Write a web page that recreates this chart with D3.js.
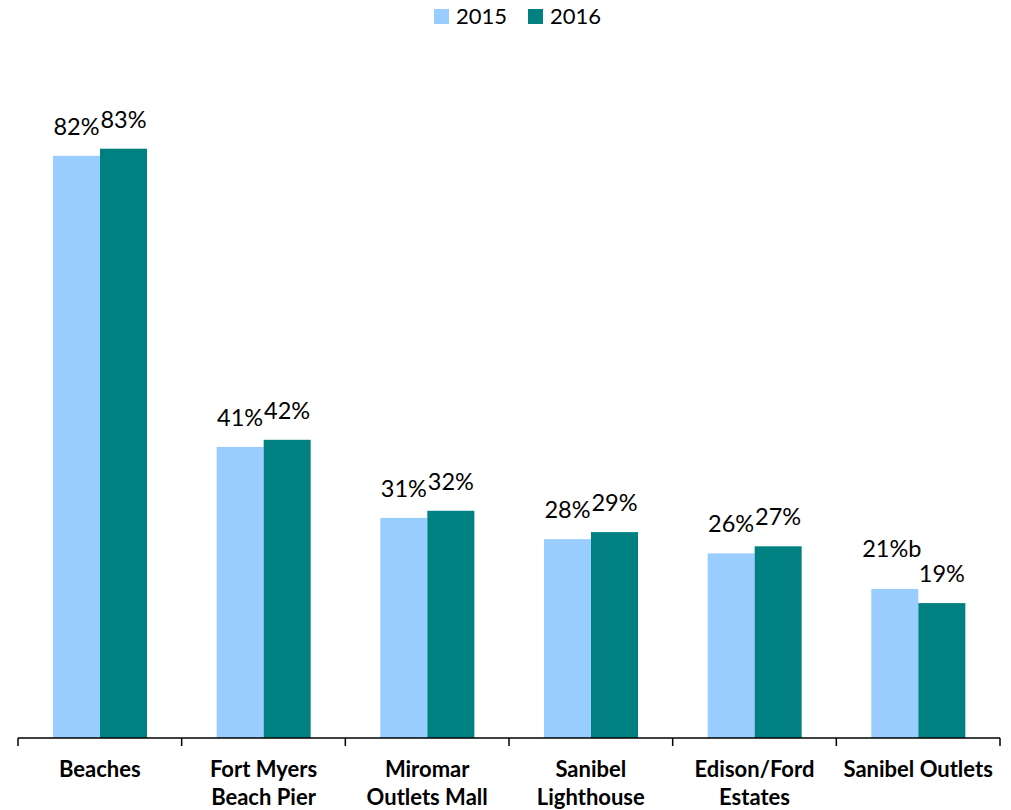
<!DOCTYPE html>
<html><head><meta charset="utf-8">
<script src="https://cdn.jsdelivr.net/npm/d3@7"></script>
<style>body{margin:0;background:#fff;} svg{display:block;}</style>
</head><body>
<svg id="c" width="1011" height="810"></svg>
<script>
const categories = [["Beaches"],["Fort Myers","Beach Pier"],["Miromar","Outlets Mall"],["Sanibel","Lighthouse"],["Edison/Ford","Estates"],["Sanibel Outlets"]];
const series = ["2015","2016"];
const values2015 = [82,41,31,28,26,21];
const values2016 = [83,42,32,29,27,19];
const labels2015 = ["82%","41%","31%","28%","26%","21%b"];
const labels2016 = ["83%","42%","32%","29%","27%","19%"];
const colors = ["#99CCFF","#008080"];
const font = "Lato, 'Open Sans', sans-serif";

const svg = d3.select("#c");
const x0 = d3.scaleBand().domain(d3.range(categories.length)).range([18,1000]).paddingInner(0).paddingOuter(0);
const x1 = d3.scaleBand().domain(series).range([35,129]);
const y = d3.scaleLinear().domain([0,100]).range([738,28]);

const data = [values2015, values2016];
const labels = [labels2015, labels2016];

series.forEach((s,si)=>{
  svg.append("g").selectAll("rect").data(data[si]).join("rect")
    .attr("x",(d,i)=>x0(i)+x1(s))
    .attr("y",d=>y(d))
    .attr("width",x1.bandwidth())
    .attr("height",d=>y(0)-y(d))
    .attr("fill",colors[si]);
  svg.append("g").selectAll("text").data(data[si]).join("text")
    .attr("x",(d,i)=>x0(i)+x1(s)+x1.bandwidth()/2 - (labels[si][i].endsWith("b") ? 3 : 0))
    .attr("y",(d,i)=> y(d) - (labels[si][i].endsWith("b") ? 32 : 21))
    .attr("text-anchor","middle")
    .attr("font-family",font).attr("font-size",23.5).attr("fill","#000")
    .text((d,i)=>labels[si][i]);
});

// axis
const ax = svg.append("g").attr("transform","translate(0,738)");
ax.append("line").attr("x1",18).attr("x2",1000).attr("stroke","#000").attr("stroke-width",1.5);
const ticks = d3.range(categories.length+1).map(i=> i<categories.length ? x0(i) : 1000);
ax.selectAll("line.t").data(ticks).join("line").attr("class","t")
  .attr("x1",d=>d).attr("x2",d=>d).attr("y1",0).attr("y2",8).attr("stroke","#000").attr("stroke-width",1.5);

const cl = svg.append("g").selectAll("text").data(categories).join("text")
  .attr("text-anchor","middle")
  .attr("font-family",font).attr("font-size",22).attr("font-weight","bold").attr("fill","#000");
cl.each(function(lines,i){
  const t = d3.select(this);
  lines.forEach((l,li)=>{
    t.append("tspan").attr("x",x0(i)+x0.bandwidth()/2).attr("y",777+li*28).text(l);
  });
});

// legend
const lg = svg.append("g");
const lx = [434,528];
series.forEach((s,si)=>{
  lg.append("rect").attr("x",lx[si]).attr("y",9).attr("width",15).attr("height",15).attr("fill",colors[si]);
  lg.append("text").attr("x",lx[si]+22).attr("y",24).attr("font-family",font).attr("font-size",22).attr("fill","#000").text(s);
});
</script>
</body></html>
